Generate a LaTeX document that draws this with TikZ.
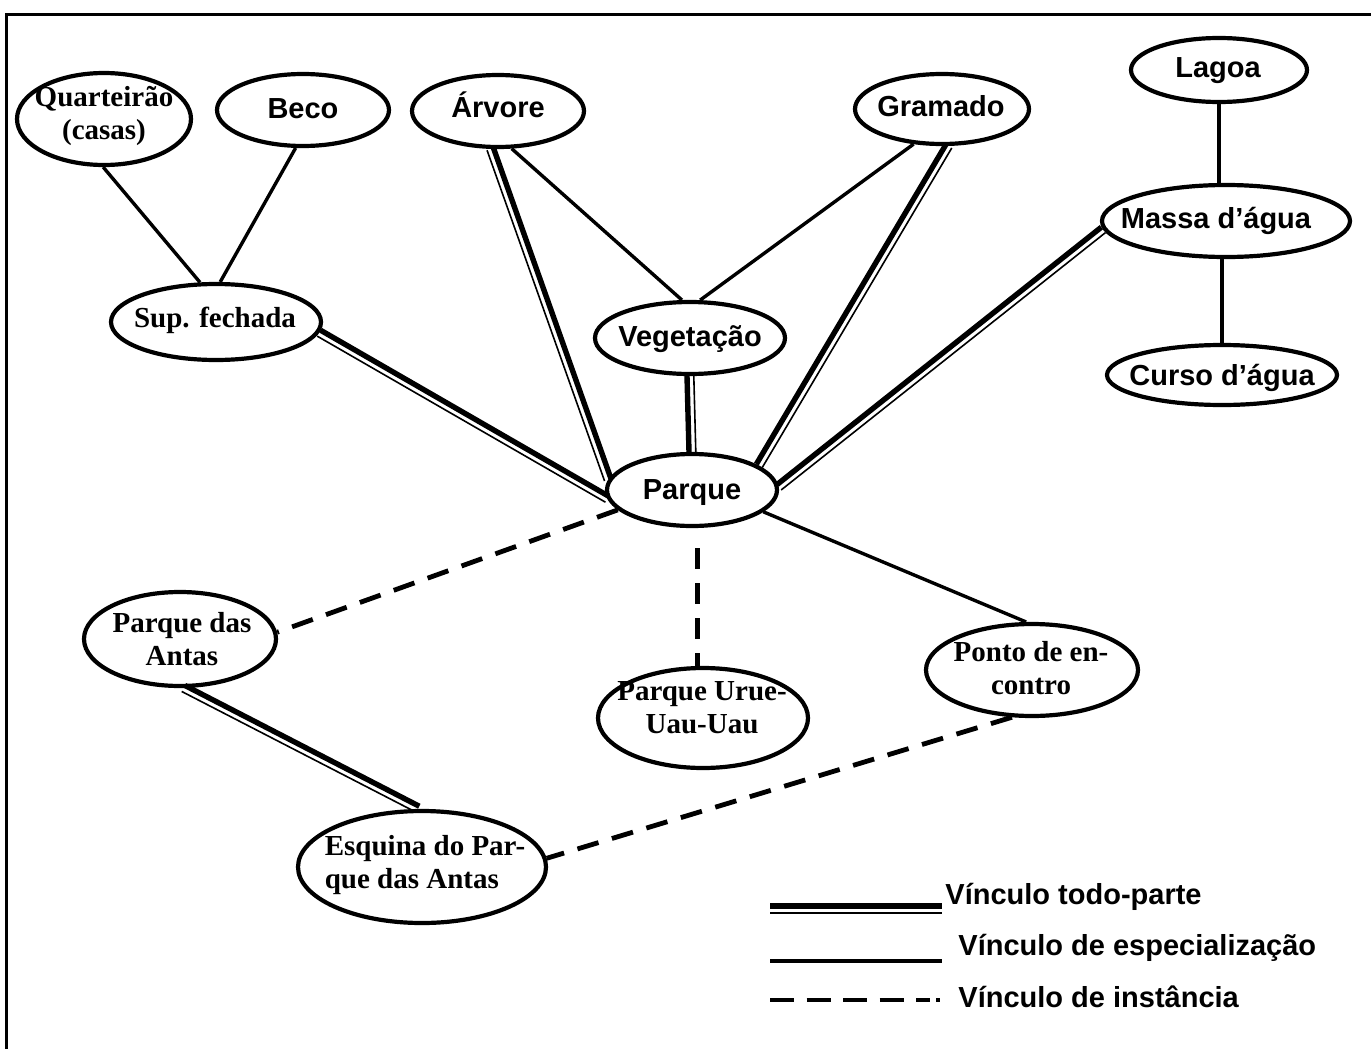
\documentclass[tikz,border=0pt]{standalone}
\usepackage{fontspec}
\setmainfont{Liberation Serif}
\newfontfamily\arialfam{Liberation Sans}
\usetikzlibrary{shapes.geometric,calc}

% whole-part link: heavy stroke on the left of the direction #1 -> #2, hairline on the right
\newcommand\partlink[2]{%
  \draw[line width=2.7pt] ($(#1)!1.5pt!90:(#2)$) -- ($(#2)!1.5pt!-90:(#1)$);
  \draw[line width=0.8pt] ($(#1)!1.9pt!-90:(#2)$) -- ($(#2)!1.9pt!90:(#1)$);
}

\begin{document}
\begin{tikzpicture}[x=0.5pt,y=-0.5pt,
  ent/.style={draw, ellipse, line width=2.1pt, inner sep=0pt},
  sanslbl/.style={font=\arialfam\bfseries\fontsize{14.5pt}{16.5pt}\selectfont, inner sep=0pt, align=center},
  seriflbl/.style={font=\bfseries\fontsize{14.5pt}{16.5pt}\selectfont, inner sep=0pt, align=center},
  legtxt/.style={font=\arialfam\bfseries\fontsize{14.5pt}{16.5pt}\selectfont, inner sep=0pt, anchor=base west},
  spec/.style={line width=1.7pt},
  inst/.style={line width=2.4pt, dash pattern=on 11pt off 7pt},
]
\path[use as bounding box, fill=white] (0,0) rectangle (1371,1049);

% frame
\coordinate (fbl) at (6,1049);
\coordinate (ftl) at (6,14);
\coordinate (ftr) at (1371,14);
\draw[line width=1.5pt] (fbl) -- (ftl) -- (ftr);

% classes
\node[ent, minimum width=87pt,  minimum height=46pt] (q)    at (104,119)  {};
\node[ent, minimum width=86pt,  minimum height=36pt] (beco) at (303,110)  {};
\node[ent, minimum width=86pt,  minimum height=36pt] (arv)  at (498,111)  {};
\node[ent, minimum width=87pt,  minimum height=35pt] (gram) at (942,109)  {};
\node[ent, minimum width=88pt,  minimum height=32pt] (lag)  at (1219,70)  {};
\node[ent, minimum width=124pt, minimum height=36pt] (mas)  at (1226,221) {};
\node[ent, minimum width=115pt, minimum height=30pt] (cur)  at (1222,375) {};
\node[ent, minimum width=95pt,  minimum height=36pt] (veg)  at (690,338)  {};
\node[ent, minimum width=85pt,  minimum height=36pt] (par)  at (692,490)  {};
\node[ent, minimum width=105pt, minimum height=38pt] (sup)  at (216,322)  {};
\node[ent, minimum width=96pt,  minimum height=47pt] (ant)  at (180,639)  {};
\node[ent, minimum width=105pt, minimum height=50pt] (uru)  at (703,718)  {};
\node[ent, minimum width=106pt, minimum height=46pt] (pto)  at (1032,670) {};
\node[ent, minimum width=124pt, minimum height=56pt] (esq)  at (422,867)  {};

% labels
\node[seriflbl] (q-t)    at (104,116)  {Quarteirão\\(casas)};
\node[sanslbl]  (beco-t) at (303,109)  {Beco};
\node[sanslbl]  (arv-t)  at (498,105)  {Árvore};
\node[sanslbl]  (gram-t) at (941,106)  {Gramado};
\node[sanslbl]  (lag-t)  at (1218,71)  {Lagoa};
\node[sanslbl]  (mas-t)  at (1216,221) {Massa d’água};
\node[sanslbl]  (cur-t)  at (1222,378) {Curso d’água};
\node[sanslbl]  (veg-t)  at (690,339)  {Vegetação};
\node[sanslbl]  (par-t)  at (692,493)  {Parque};
\node[seriflbl] (sup-t)  at (215,320)  {Sup. fechada};
\node[seriflbl] (ant-t)  at (182,639)  {Parque das\\Antas};
\node[seriflbl] (uru-t)  at (702,708)  {Parque Urue-\\Uau-Uau};
\node[seriflbl] (pto-t)  at (1031,668) {Ponto de en-\\contro};
\node[seriflbl, align=left] (esq-t) at (425,865) {Esquina do Par-\\que das Antas};

% specialization links
\draw[spec] (q.-91) -- (sup.112);
\draw[spec] (beco.-101) -- (sup.84);
\draw[spec] (arv.-70) -- (veg.102);
\draw[spec] (gram.-129) -- (veg.75);
\draw[spec] (lag.south) -- (lag.south |- mas.north);
\draw[spec] (cur.north |- mas.south) -- (cur.north);
\draw[spec] (par.-17) -- (pto.97);

% whole-part links
\partlink{arv.-101.6}{par.173.4}
\partlink{sup.-6.8}{par.-174.3}
\partlink{par.90}{veg.-90}
\partlink{par.20.4}{gram.-80.5}
\partlink{par.2}{mas.-176.7}
\partlink{ant.-86.5}{esq.94.8}

% instance links
\draw[inst] (par.-165.8) -- (ant.4);
\draw[inst, dash pattern=on 10.5pt off 7pt, shorten <=10pt] (uru.96.6 |- par.south) -- (uru.96.6);
\draw[inst] (pto.-113) -- (esq.4.1);

% legend
\coordinate (l1a) at (770,906);  \coordinate (l1b) at (942,906);
\coordinate (l1c) at (770,913);  \coordinate (l1d) at (942,913);
\coordinate (l2a) at (770,961);  \coordinate (l2b) at (942,961);
\coordinate (l3a) at (770,1000); \coordinate (l3b) at (930,1000);
\coordinate (l3c) at (936,1000); \coordinate (l3d) at (940,1000);
\draw[line width=2.7pt] (l1a) -- (l1b);
\draw[line width=0.8pt] (l1c) -- (l1d);
\draw[spec] (l2a) -- (l2b);
\draw[line width=2.4pt, dash pattern=on 12pt off 6.25pt] (l3a) -- (l3b);
\draw[line width=2pt] (l3c) -- (l3d);
\node[legtxt] (leg1) at (945,904)  {Vínculo todo-parte};
\node[legtxt] (leg2) at (958,955)  {Vínculo de especialização};
\node[legtxt] (leg3) at (958,1007) {Vínculo de instância};
\end{tikzpicture}
\end{document}
